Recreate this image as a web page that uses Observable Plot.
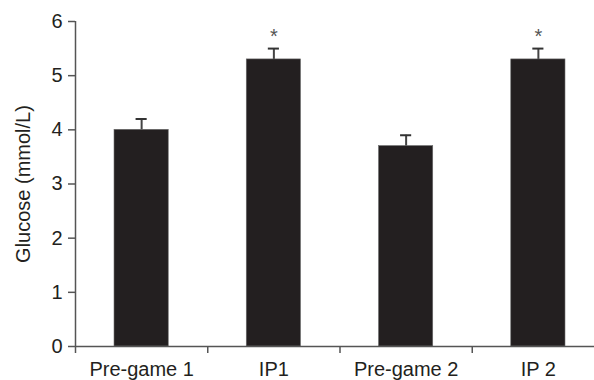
<!DOCTYPE html>
<html>
<head>
<meta charset="utf-8">
<script src="https://cdn.jsdelivr.net/npm/d3@7"></script>
<script src="https://cdn.jsdelivr.net/npm/@observablehq/plot@0.6"></script>
<style>
  html, body { margin: 0; padding: 0; background: #fff; overflow: hidden; }
  #chart svg { display: block; }
</style>
</head>
<body>
<div id="chart"></div>
<script>
const categories = ["Pre-game 1", "IP1", "Pre-game 2", "IP 2"];
const means = [4.0, 5.3, 3.7, 5.3];
const errors = [0.2, 0.2, 0.2, 0.2];
const significant = [false, true, false, true];
const yTicks = [0, 1, 2, 3, 4, 5, 6];
const yLabel = "Glucose (mmol/L)";

const data = categories.map((c, i) => ({
  cat: c, pos: i + 0.5, mean: means[i], err: errors[i], sig: significant[i]
}));

const ink = "#231f20";
const axisGrey = "#555";

const chart = Plot.plot({
  width: 594,
  height: 380,
  marginLeft: 75,
  marginRight: 0,
  marginTop: 21,
  marginBottom: 34,
  style: { fontFamily: "'Liberation Sans', Arial, sans-serif", color: ink, background: "#fff" },
  x: { type: "linear", domain: [0, 4], range: [75, 604] },
  y: { domain: [0, 6] },
  marks: [
    Plot.rectY(data, {
      x1: d => d.pos - 0.205, x2: d => d.pos + 0.205, y1: 0, y2: "mean",
      fill: ink, stroke: "#6a6a6a", strokeWidth: 0.6
    }),
    Plot.ruleX(data, { x: "pos", y1: "mean", y2: d => d.mean + d.err, stroke: "#444", strokeWidth: 2 }),
    Plot.ruleY(data, { y: d => d.mean + d.err, x1: d => d.pos - 0.042, x2: d => d.pos + 0.042, stroke: "#333", strokeWidth: 2 }),
    Plot.text(data.filter(d => d.sig), {
      x: "pos", y: d => d.mean + d.err + 0.3, text: () => "*",
      fontSize: 20, fill: "#555", dy: 4
    }),
    Plot.ruleX([0], { y1: 0, y2: 6, stroke: axisGrey, strokeWidth: 1.5 }),
    Plot.ruleY([0], { stroke: axisGrey, strokeWidth: 1.5 }),
    Plot.axisY({ ticks: yTicks, tickFormat: "d", tickSize: 7, tickPadding: 6, fontSize: 20, label: null, stroke: axisGrey, strokeWidth: 1.5 }),
    Plot.axisX({ ticks: [0, 1, 2, 3], tickSize: 7, tickFormat: () => "", label: null, stroke: axisGrey, strokeWidth: 1.5 }),
    Plot.axisX({ ticks: data.map(d => d.pos), tickSize: 0, tickPadding: 15, tickFormat: v => categories[Math.round(v - 0.5)], fontSize: 20, label: null }),
    Plot.text([yLabel], { frameAnchor: "left", textAnchor: "middle", lineAnchor: "middle", rotate: -90, dx: -52, fontSize: 20, fill: ink })
  ]
});
document.getElementById("chart").append(chart);
</script>
</body>
</html>
